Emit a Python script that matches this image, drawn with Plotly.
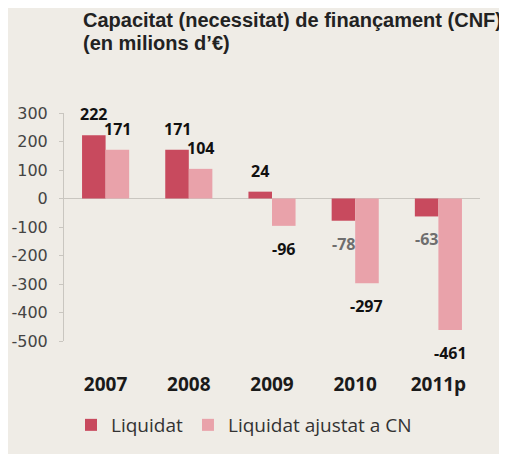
import plotly.graph_objects as go

categories = ["2007", "2008", "2009", "2010", "2011p"]
liquidat = [222, 171, 24, -78, -63]
ajustat = [171, 104, -96, -297, -461]
y_ticks = [300, 200, 100, 0, -100, -200, -300, -400, -500]
y_tick_labels = ["300", "200", "100", "0", "-100", "-200", "-300", "-400", "-500"]

dark = "#c84a5e"
light = "#e9a2aa"
bg = "#efece6"
bargap = 0.434
half = (1 - bargap) / 4

# page body has an 8px default margin; plot area in window coords: x 64..480, y 113..341
OFF = 8
PL, PR, PT, PB = 64, 480, 113, 341


def px(xw):
    return (xw - PL) / (PR - PL)


def py(yw):
    return (PB - yw) / (PB - PT)


fig = go.Figure()
fig.add_trace(go.Bar(x=categories, y=liquidat, name="Liquidat", marker_color=dark,
                     marker_line_width=0))
fig.add_trace(go.Bar(x=categories, y=ajustat, name="Liquidat ajustat a CN", marker_color=light,
                     marker_line_width=0))

annotations = []
for k, (series, off) in enumerate(((liquidat, -half), (ajustat, half))):
    for i, v in enumerate(series):
        col = "#6e6e6e" if (k == 0 and v < 0) else "#111111"
        annotations.append(dict(
            x=i + off, y=v, xref="x", yref="y", text=str(v), showarrow=False,
            yshift=21 if v >= 0 else -23, yanchor="middle",
            font=dict(family="Open Sans", size=16, color=col, weight="bold")))

title_font = dict(family="Liberation Sans", size=20, color="#222222", weight="bold")
annotations.append(dict(xref="paper", yref="paper", x=px(81), y=py(20),
                        xanchor="left", yanchor="middle", showarrow=False,
                        text="Capacitat (necessitat) de finançament (CNF)", font=title_font))
annotations.append(dict(xref="paper", yref="paper", x=px(81), y=py(43),
                        xanchor="left", yanchor="middle", showarrow=False,
                        text="(en milions d’€)", font=title_font))

fig.update_layout(
    width=507 - OFF, height=454 - OFF,
    margin=dict(l=PL - OFF, r=507 - PR, t=PT - OFF, b=454 - PB, autoexpand=False),
    paper_bgcolor=bg, plot_bgcolor=bg,
    barmode="group", bargap=bargap, bargroupgap=0,
    showlegend=True,
    legend=dict(orientation="h", x=px(71), xanchor="left", y=py(425),
                yanchor="middle", font=dict(family="Open Sans", size=19, color="#333333"),
                traceorder="normal", bgcolor="rgba(0,0,0,0)"),
    annotations=annotations,
    xaxis=dict(showgrid=False, showline=False, ticks="", zeroline=False, automargin=False,
               tickfont=dict(family="Open Sans", size=19, color="#1a1a1a", weight="bold"),
               ticklabelstandoff=30),
    yaxis=dict(range=[-500, 300], tickvals=y_ticks, ticktext=y_tick_labels,
               showgrid=False, automargin=False,
               showline=True, linecolor="#c9c6c0", linewidth=1,
               ticks="outside", ticklen=4, tickcolor="#c9c6c0",
               zeroline=True, zerolinecolor="#c9c6c0", zerolinewidth=1,
               ticklabelstandoff=8,
               tickfont=dict(family="DejaVu Sans", size=16, color="#444444")),
)

fig.write_html("out.html")
